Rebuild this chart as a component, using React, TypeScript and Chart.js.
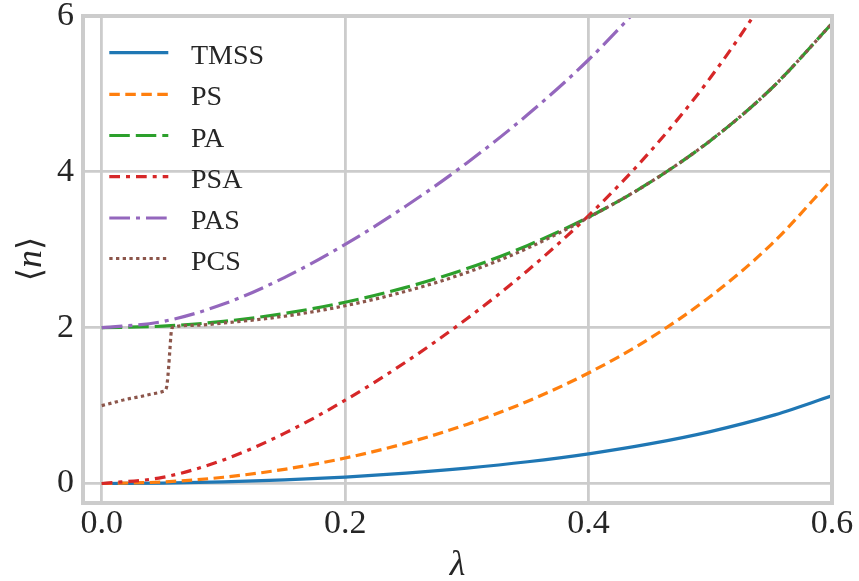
import React, { useEffect, useRef } from "react";
import { Chart, registerables } from "chart.js";

Chart.register(...registerables);

// λ sample points
const lambdaGrid = [0, 0.05, 0.1, 0.15, 0.2, 0.25, 0.3, 0.35, 0.4, 0.45, 0.5, 0.55, 0.6];
const tmssValues = [0, 0.005, 0.0202, 0.046, 0.0833, 0.1333, 0.1978, 0.2792, 0.381, 0.5079, 0.6667, 0.8677, 1.125];
const psValues = [0, 0.02, 0.0804, 0.1821, 0.3269, 0.5177, 0.7586, 1.0559, 1.4187, 1.8603, 2.4, 3.0666, 3.9044];
const paValues = [2, 2.02, 2.0804, 2.1821, 2.3269, 2.5177, 2.7586, 3.0559, 3.4187, 3.8603, 4.4, 5.0666, 5.9044];
const psaValues = [0, 0.0789, 0.303, 0.643, 1.0689, 1.5613, 2.1145, 2.7348, 3.4384, 4.2504, 5.207, 6.36, 7.7863];
const pasLambda = [0, 0.05, 0.1, 0.15, 0.2, 0.25, 0.3, 0.35, 0.4, 0.45];
const pasValues = [2, 2.0789, 2.303, 2.643, 3.0689, 3.5613, 4.1145, 4.7348, 5.4384, 6.2504];
const pcsLambda = [0, 0.01, 0.02, 0.03, 0.04, 0.05, 0.053, 0.054, 0.055, 0.056, 0.057, 0.058, 0.075, 0.1, 0.15, 0.2, 0.25, 0.3, 0.35, 0.4, 0.45, 0.5, 0.55, 0.6];
const pcsValues = [1.0, 1.04, 1.08, 1.11, 1.145, 1.18, 1.22, 1.32, 1.5, 1.72, 1.93, 2.005, 2.03, 2.06, 2.147, 2.282, 2.468, 2.709, 3.021, 3.414, 3.86, 4.4, 5.066, 5.904];

const seriesLabels = ["TMSS", "PS", "PA", "PSA", "PAS", "PCS"];
const seriesColors = ["#1f77b4", "#ff7f0e", "#2ca02c", "#d62728", "#9467bd", "#8c564b"];
const seriesDashes: number[][] = [[], [10.5, 5.5], [20.5, 6], [10.7, 6, 4, 6], [20.7, 6, 4, 6], [3.3, 3.4]];

const xTicks = [0, 0.2, 0.4, 0.6];
const yTicks = [0, 2, 4, 6];
const xLabel = "λ";

const SERIF = "'Liberation Serif', 'DejaVu Serif', serif";
const TEXT = "#262626";
const GRID = "#cccccc";
const LW = 3.2;

function pts(xs: number[], ys: number[]) {
  return xs.map((x, i) => ({ x, y: ys[i] }));
}

const decorPlugin = {
  id: "decor",
  afterDatasetsDraw(chart: any) {
    const { ctx, chartArea: a } = chart;
    ctx.save();
    // frame
    ctx.strokeStyle = GRID;
    ctx.lineWidth = 4;
    ctx.setLineDash([]);
    ctx.strokeRect(a.left, a.top, a.right - a.left, a.bottom - a.top);

    // legend
    const rows = [52.7, 94.3, 135.5, 176.7, 218, 258.5];
    ctx.font = `28px ${SERIF}`;
    ctx.fillStyle = TEXT;
    ctx.textAlign = "left";
    ctx.textBaseline = "alphabetic";
    seriesLabels.forEach((lab, i) => {
      const y = rows[i];
      ctx.beginPath();
      ctx.strokeStyle = seriesColors[i];
      ctx.lineWidth = LW;
      ctx.lineCap = "butt";
      ctx.setLineDash(seriesDashes[i]);
      ctx.moveTo(109.3, y);
      ctx.lineTo(168.3, y);
      ctx.stroke();
      ctx.setLineDash([]);
      ctx.fillText(lab, 191, y + 11);
    });

    // x label
    ctx.font = `italic 36px ${SERIF}`;
    ctx.textAlign = "center";
    ctx.fillText(xLabel, (a.left + a.right) / 2, 575);

    // y label ⟨n⟩
    ctx.translate(41, 259);
    ctx.rotate(-Math.PI / 2);
    const up = `34px 'DejaVu Serif', ${SERIF}`;
    const it = `italic 36px ${SERIF}`;
    ctx.font = up;
    const wl = ctx.measureText("⟨").width;
    const wr = ctx.measureText("⟩").width;
    ctx.font = it;
    const wn = ctx.measureText("n").width;
    const total = wl + wn + wr;
    let x = -total / 2;
    ctx.textAlign = "left";
    ctx.font = up;
    ctx.fillText("⟨", x, 0);
    x += wl;
    ctx.font = it;
    ctx.fillText("n", x, 0);
    x += wn;
    ctx.font = up;
    ctx.fillText("⟩", x, 0);
    ctx.restore();
  },
};

export default function App() {
  const ref = useRef<HTMLCanvasElement | null>(null);

  useEffect(() => {
    document.body.style.margin = "0";
    const canvas = ref.current;
    if (!canvas) return;
    const xsList = [lambdaGrid, lambdaGrid, lambdaGrid, lambdaGrid, pasLambda, pcsLambda];
    const ysList = [tmssValues, psValues, paValues, psaValues, pasValues, pcsValues];
    const datasets = seriesLabels.map((label, i) => ({
      label,
      data: pts(xsList[i], ysList[i]),
      borderColor: seriesColors[i],
      backgroundColor: seriesColors[i],
      borderWidth: LW,
      borderDash: seriesDashes[i],
      borderCapStyle: "butt" as const,
      pointRadius: 0,
      pointHoverRadius: 0,
      fill: false,
      cubicInterpolationMode: "monotone" as const,
      order: 6 - i,
    }));

    const chart = new Chart(canvas, {
      type: "line",
      data: { datasets },
      plugins: [decorPlugin],
      options: {
        animation: false,
        responsive: false,
        devicePixelRatio: 1,
        layout: { padding: { left: 0, top: 16, right: 27, bottom: 0 } },
        plugins: { legend: { display: false }, tooltip: { enabled: false } },
        scales: {
          x: {
            type: "linear",
            min: -0.0154,
            max: 0.6,
            afterBuildTicks: (s: any) => {
              s.ticks = xTicks.map((v) => ({ value: v }));
            },
            afterFit: (s: any) => {
              s.height = 78;
            },
            grid: { color: GRID, lineWidth: 2.8, drawTicks: false },
            border: { display: false },
            ticks: {
              padding: 4,
              color: TEXT,
              font: { family: SERIF, size: 34, lineHeight: 1 },
              callback: (v: any) => Number(v).toFixed(1),
              maxRotation: 0,
              autoSkip: false,
            },
          },
          y: {
            type: "linear",
            min: -0.25,
            max: 6,
            afterBuildTicks: (s: any) => {
              s.ticks = yTicks.map((v) => ({ value: v }));
            },
            afterFit: (s: any) => {
              s.width = 83;
            },
            grid: { color: GRID, lineWidth: 2.8, drawTicks: false },
            border: { display: false },
            ticks: {
              padding: 9,
              color: TEXT,
              font: { family: SERIF, size: 34, lineHeight: 0.4 },
              callback: (v: any) => String(Math.round(Number(v))),
              autoSkip: false,
            },
          },
        },
      },
    });
    return () => chart.destroy();
  }, []);

  return (
    <div style={{ width: 859, height: 581 }}>
      <canvas ref={ref} width={859} height={581} style={{ display: "block" }} />
    </div>
  );
}
